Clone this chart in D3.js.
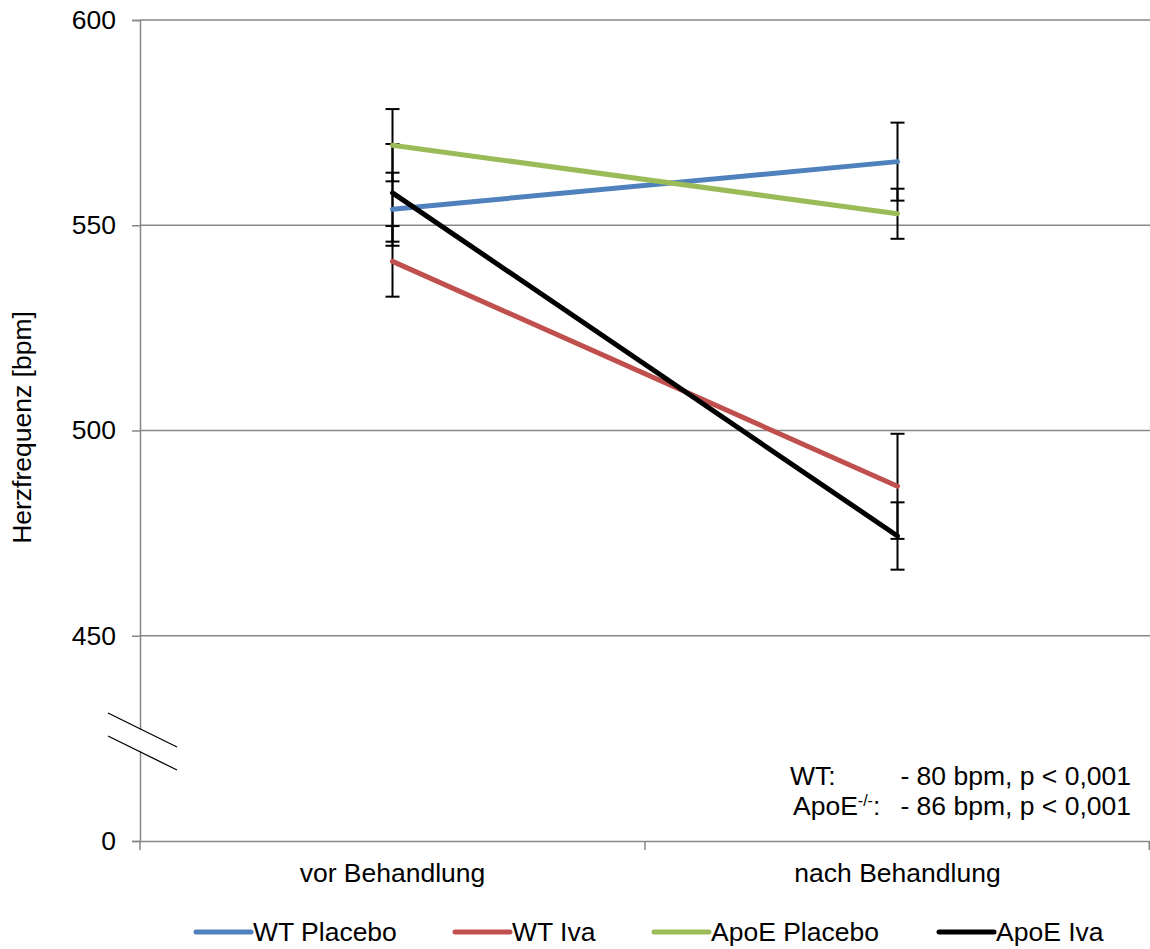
<!DOCTYPE html>
<html>
<head>
<meta charset="utf-8">
<title>Herzfrequenz</title>
<script src="https://d3js.org/d3.v7.min.js"></script>
<style>
  body { margin: 0; background: #fff; }
  svg { display: block; font-family: "Liberation Sans", Arial, sans-serif; }
</style>
</head>
<body>
<svg id="chart" width="1150" height="949"></svg>
<script>
// data
var categories = ["vor Behandlung", "nach Behandlung"];
var seriesNames = ["WT Placebo", "WT Iva", "ApoE Placebo", "ApoE Iva"];
var seriesColors = ["#4F81BD", "#C0504D", "#9BBB59", "#000000"];

var wtPlacebo = [553.9, 565.5];
var wtPlaceboErr = [8.9, 9.5];
var wtIva = [541.2, 486.4];
var wtIvaErr = [8.6, 12.8];
var apoePlacebo = [569.5, 552.8];
var apoePlaceboErr = [8.8, 6.1];
var apoeIva = [557.9, 474.3];
var apoeIvaErr = [11.9, 8.2];

var yTicks = [400, 450, 500, 550, 600];
var yTickLabels = ["0", "450", "500", "550", "600"];

var notes = [
  {label: "WT:", sup: "", text: "- 80 bpm, p < 0,001"},
  {label: "ApoE", sup: "-/-", text: "- 86 bpm, p < 0,001"}
];

drawChart();

function drawChart() {
  var series = [
    {name: seriesNames[0], values: wtPlacebo, err: wtPlaceboErr, color: seriesColors[0]},
    {name: seriesNames[1], values: wtIva, err: wtIvaErr, color: seriesColors[1]},
    {name: seriesNames[2], values: apoePlacebo, err: apoePlaceboErr, color: seriesColors[2]},
    {name: seriesNames[3], values: apoeIva, err: apoeIvaErr, color: seriesColors[3]}
  ];

  var plotL = 140, plotR = 1150, plotT = 20, plotB = 841;
  var fontSize = 26.5;
  var grey = "#878787";

  var svg = d3.select("#chart");

  var x = d3.scaleBand().domain(categories).range([plotL, plotR]).padding(0);
  var cx = function(c) { return x(c) + x.bandwidth() / 2; };
  var y = d3.scaleLinear().domain([400, 600]).range([plotB, plotT]);

  // gridlines
  svg.append("g")
    .selectAll("line")
    .data(yTicks.filter(function(t) { return t > 400; }))
    .enter().append("line")
    .attr("x1", plotL).attr("x2", plotR)
    .attr("y1", function(d) { return y(d); })
    .attr("y2", function(d) { return y(d); })
    .attr("stroke", grey).attr("stroke-width", 1.5);

  // y axis
  var yAxis = d3.axisLeft(y)
    .tickValues(yTicks)
    .tickFormat(function(d, i) { return yTickLabels[i]; })
    .tickSize(8)
    .tickPadding(16);
  var gy = svg.append("g").attr("transform", "translate(" + plotL + ",0)").call(yAxis);
  gy.select(".domain").attr("stroke", grey).attr("stroke-width", 1.5);
  gy.selectAll(".tick line").attr("stroke", grey).attr("stroke-width", 1.5);
  gy.selectAll(".tick text").attr("fill", "#000").style("font-size", fontSize + "px")
    .style("font-family", "Liberation Sans, Arial, sans-serif");

  // x axis
  var xAxis = d3.axisBottom(x).tickSize(0).tickPadding(22);
  var gx = svg.append("g").attr("transform", "translate(0," + plotB + ")").call(xAxis);
  gx.select(".domain").attr("stroke", grey).attr("stroke-width", 1.5);
  gx.selectAll(".tick text").attr("fill", "#000").style("font-size", fontSize + "px")
    .style("font-family", "Liberation Sans, Arial, sans-serif");
  // category boundary ticks
  svg.append("g")
    .selectAll("line")
    .data(categories.concat([null]))
    .enter().append("line")
    .attr("x1", function(d) { return d ? x(d) : plotR - 0.75; })
    .attr("x2", function(d) { return d ? x(d) : plotR - 0.75; })
    .attr("y1", plotB).attr("y2", plotB + 9)
    .attr("stroke", grey).attr("stroke-width", 1.5);

  // axis break
  var brk = [[108, 713, 177, 747], [108, 736, 177, 770]];
  svg.append("polygon")
    .attr("points", [[brk[0][0], brk[0][1] + 1], [brk[0][2], brk[0][3] + 1],
                     [brk[1][2], brk[1][3] - 1], [brk[1][0], brk[1][1] - 1]].join(" "))
    .attr("fill", "#fff");
  svg.append("g")
    .selectAll("line")
    .data(brk)
    .enter().append("line")
    .attr("x1", function(d) { return d[0]; }).attr("y1", function(d) { return d[1]; })
    .attr("x2", function(d) { return d[2]; }).attr("y2", function(d) { return d[3]; })
    .attr("stroke", "#000").attr("stroke-width", 1.3);

  // y axis title
  svg.append("text")
    .attr("transform", "translate(31," + ((plotT + plotB) / 2 - 3) + ") rotate(-90)")
    .attr("text-anchor", "middle")
    .style("font-size", fontSize + "px")
    .text("Herzfrequenz [bpm]");

  // error bars
  var capW = 7;
  series.forEach(function(s) {
    var g = svg.append("g").attr("stroke", "#000").attr("stroke-width", 2);
    categories.forEach(function(c, i) {
      var hi = y(s.values[i] + s.err[i]), lo = y(s.values[i] - s.err[i]);
      g.append("line").attr("x1", cx(c)).attr("x2", cx(c)).attr("y1", hi).attr("y2", lo);
      g.append("line").attr("x1", cx(c) - capW).attr("x2", cx(c) + capW).attr("y1", hi).attr("y2", hi);
      g.append("line").attr("x1", cx(c) - capW).attr("x2", cx(c) + capW).attr("y1", lo).attr("y2", lo);
    });
  });

  // series lines
  var line = d3.line()
    .x(function(d, i) { return cx(categories[i]); })
    .y(function(d) { return y(d); });
  series.forEach(function(s) {
    svg.append("path")
      .datum(s.values)
      .attr("d", line)
      .attr("fill", "none")
      .attr("stroke", s.color)
      .attr("stroke-width", 5)
      .attr("stroke-linecap", "round");
  });

  // annotation
  var ng = svg.append("g").style("font-size", fontSize + "px");
  notes.forEach(function(n, i) {
    var yy = 785 + i * 30;
    var t = ng.append("text").attr("x", i === 0 ? 790 : 793).attr("y", yy);
    t.append("tspan").text(n.label);
    if (n.sup) {
      t.append("tspan").attr("dy", -9).style("font-size", "16px").text(n.sup);
      t.append("tspan").attr("dy", 9).text(":");
    }
    ng.append("text").attr("x", 1131).attr("y", yy).attr("text-anchor", "end").text(n.text);
  });

  // legend
  var legendX = [196, 455, 654, 939];
  var lg = svg.append("g");
  series.forEach(function(s, i) {
    lg.append("line")
      .attr("x1", legendX[i]).attr("x2", legendX[i] + 55)
      .attr("y1", 932).attr("y2", 932)
      .attr("stroke", s.color).attr("stroke-width", 5).attr("stroke-linecap", "round");
    lg.append("text")
      .attr("x", legendX[i] + 57).attr("y", 941)
      .style("font-size", fontSize + "px")
      .text(s.name);
  });
}
</script>
</body>
</html>
